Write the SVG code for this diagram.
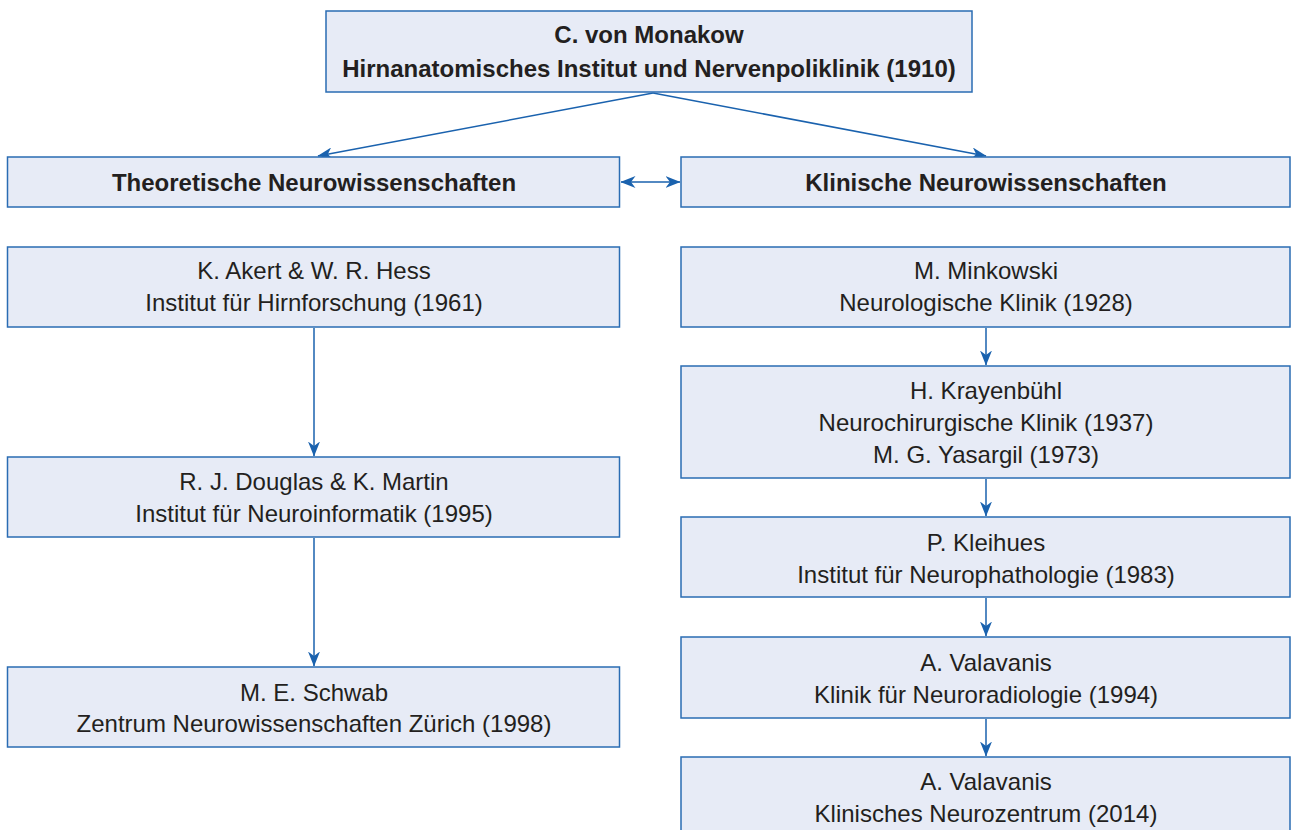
<svg xmlns="http://www.w3.org/2000/svg" width="1291" height="830" viewBox="0 0 1291 830">
<style>
.box{fill:#e7ebf6;stroke:#2a6cb3;stroke-width:1.5}
.t{font-family:"Liberation Sans",Arial,sans-serif;font-size:24px;fill:#231f20;text-anchor:middle}
.b{font-weight:bold}
.c{stroke:#1a62ae;stroke-width:1.5;fill:none}
</style>
<defs>
<marker id="ah" viewBox="0 0 15 12" refX="14.5" refY="6" markerWidth="15" markerHeight="12" markerUnits="userSpaceOnUse" orient="auto-start-reverse">
<path d="M0,0 L15,6 L0,12 L4.5,6 z" fill="#1a62ae"/>
</marker>
</defs>
<rect width="1291" height="830" fill="#fff"/>
<g id="connectors">
<line class="c" x1="653" y1="93" x2="318" y2="156" marker-end="url(#ah)"/>
<line class="c" x1="653" y1="93" x2="986" y2="156" marker-end="url(#ah)"/>
<line class="c" x1="621" y1="182" x2="680" y2="182" marker-start="url(#ah)" marker-end="url(#ah)"/>
<line class="c" x1="314" y1="328" x2="314" y2="456" marker-end="url(#ah)"/>
<line class="c" x1="314" y1="538" x2="314" y2="666" marker-end="url(#ah)"/>
<line class="c" x1="986" y1="328" x2="986" y2="365" marker-end="url(#ah)"/>
<line class="c" x1="986" y1="479" x2="986" y2="516" marker-end="url(#ah)"/>
<line class="c" x1="986" y1="598" x2="986" y2="636" marker-end="url(#ah)"/>
<line class="c" x1="986" y1="719" x2="986" y2="756" marker-end="url(#ah)"/>
</g>
<g id="n-monakow">
<rect class="box" x="326" y="11" width="646" height="81"/>
<text class="t b" x="649" y="43">C. von Monakow</text>
<text class="t b" x="649" y="77">Hirnanatomisches Institut und Nervenpoliklinik (1910)</text>
</g>
<g id="n-theor">
<rect class="box" x="7.5" y="157" width="612" height="50"/>
<text class="t b" x="314" y="191">Theoretische Neurowissenschaften</text>
</g>
<g id="n-klin">
<rect class="box" x="681" y="157" width="609" height="50"/>
<text class="t b" x="986" y="191">Klinische Neurowissenschaften</text>
</g>
<g id="n-akert">
<rect class="box" x="7.5" y="247" width="612" height="80"/>
<text class="t" x="314" y="279">K. Akert &amp; W. R. Hess</text>
<text class="t" x="314" y="311">Institut für Hirnforschung (1961)</text>
</g>
<g id="n-douglas">
<rect class="box" x="7.5" y="457" width="612" height="80"/>
<text class="t" x="314" y="490">R. J. Douglas &amp; K. Martin</text>
<text class="t" x="314" y="522">Institut für Neuroinformatik (1995)</text>
</g>
<g id="n-schwab">
<rect class="box" x="7.5" y="667" width="612" height="80"/>
<text class="t" x="314" y="701">M. E. Schwab</text>
<text class="t" x="314" y="732">Zentrum Neurowissenschaften Zürich (1998)</text>
</g>
<g id="n-minkowski">
<rect class="box" x="681" y="247" width="609" height="80"/>
<text class="t" x="986" y="279">M. Minkowski</text>
<text class="t" x="986" y="311">Neurologische Klinik (1928)</text>
</g>
<g id="n-krayenbuehl">
<rect class="box" x="681" y="366" width="609" height="112"/>
<text class="t" x="986" y="399">H. Krayenbühl</text>
<text class="t" x="986" y="431">Neurochirurgische Klinik (1937)</text>
<text class="t" x="986" y="463">M. G. Yasargil (1973)</text>
</g>
<g id="n-kleihues">
<rect class="box" x="681" y="517" width="609" height="80"/>
<text class="t" x="986" y="551">P. Kleihues</text>
<text class="t" x="986" y="583">Institut für Neurophathologie (1983)</text>
</g>
<g id="n-valavanis1">
<rect class="box" x="681" y="637" width="609" height="81"/>
<text class="t" x="986" y="671">A. Valavanis</text>
<text class="t" x="986" y="703">Klinik für Neuroradiologie (1994)</text>
</g>
<g id="n-valavanis2">
<rect class="box" x="681" y="757" width="609" height="80"/>
<text class="t" x="986" y="790">A. Valavanis</text>
<text class="t" x="986" y="822">Klinisches Neurozentrum (2014)</text>
</g>
</svg>
